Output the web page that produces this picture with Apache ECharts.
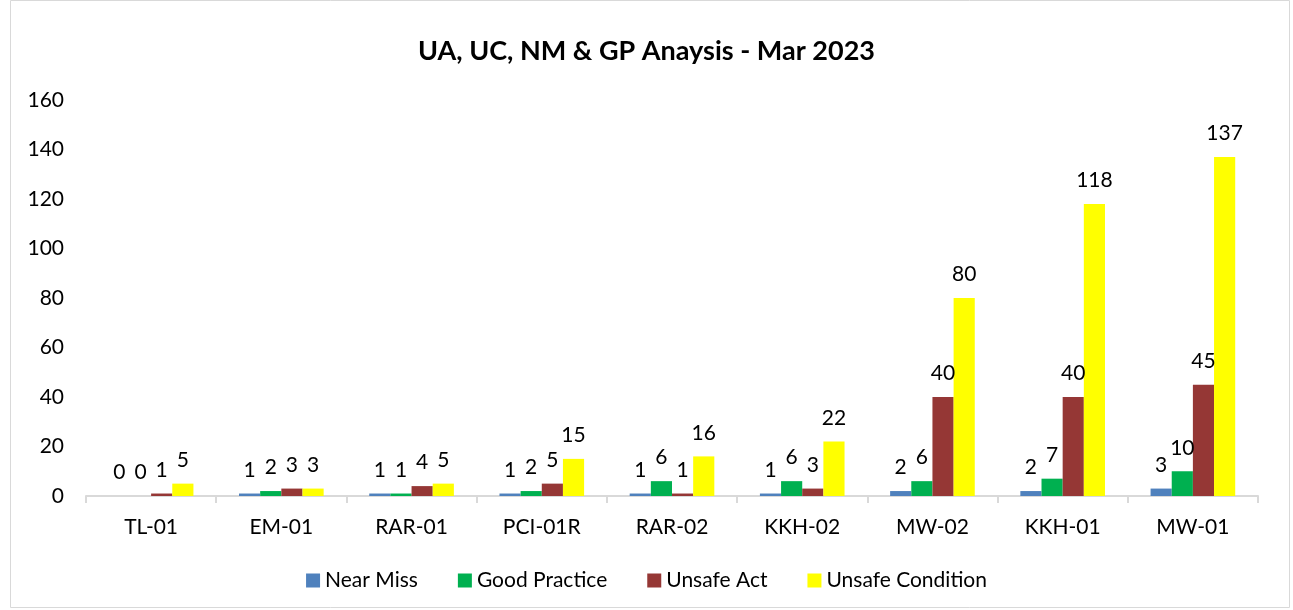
<!DOCTYPE html>
<html>
<head>
<meta charset="utf-8">
<script src="https://cdn.jsdelivr.net/npm/echarts@6/dist/echarts.min.js"></script>
<style>
  html, body { margin: 0; padding: 0; background: #fff; }
  #main { width: 1293px; height: 610px; }
</style>
</head>
<body>
<div id="main"></div>
<script>
var categories = ["TL-01", "EM-01", "RAR-01", "PCI-01R", "RAR-02", "KKH-02", "MW-02", "KKH-01", "MW-01"];
var nearMiss = [0, 1, 1, 1, 1, 1, 2, 2, 3];
var goodPractice = [0, 2, 1, 2, 6, 6, 6, 7, 10];
var unsafeAct = [1, 3, 4, 5, 1, 3, 40, 40, 45];
var unsafeCondition = [5, 3, 5, 15, 16, 22, 80, 118, 137];
var colors = ["#4f81bd", "#00b050", "#953735", "#ffff00"];
var font = "Lato, 'Open Sans', sans-serif";

function bar(name, data) {
  return {
    name: name,
    type: "bar",
    animation: false,
    barGap: "0",
    barCategoryGap: "35%",
    label: {
      show: true,
      position: "top",
      distance: 13,
      color: "#000",
      fontSize: 21,
      fontFamily: font
    },
    data: data
  };
}

var myChart = echarts.init(document.getElementById("main"));
myChart.setOption({
  color: colors,
  title: {
    text: "UA, UC, NM & GP Anaysis - Mar 2023",
    left: "center",
    top: 33,
    textStyle: { fontSize: 27, fontWeight: "bold", color: "#000", fontFamily: font }
  },
  legend: {
    bottom: 14,
    left: "center",
    itemWidth: 14,
    itemHeight: 14,
    itemGap: 40,
    icon: "rect",
    textStyle: { fontSize: 21, color: "#000", fontFamily: font },
    data: ["Near Miss", "Good Practice", "Unsafe Act", "Unsafe Condition"]
  },
  grid: { left: 86, right: 35, top: 100, bottom: 114 },
  xAxis: [{
    type: "category",
    data: categories,
    axisLine: { lineStyle: { color: "#d9d9d9", width: 2 } },
    axisTick: { show: true, length: 7, lineStyle: { color: "#d9d9d9", width: 2 } },
    axisLabel: { color: "#000", fontSize: 21, margin: 21, fontFamily: font }
  }],
  yAxis: [{
    type: "value",
    min: 0,
    max: 160,
    interval: 20,
    splitLine: { show: false },
    axisLine: { show: false },
    axisTick: { show: false },
    axisLabel: { color: "#000", fontSize: 21, margin: 22, fontFamily: font }
  }],
  graphic: [{
    type: "rect",
    shape: { x: 10.5, y: 0.5, width: 1279, height: 607 },
    style: { fill: null, stroke: "#d9d9d9", lineWidth: 1 },
    silent: true
  }],
  series: [
    bar("Near Miss", nearMiss),
    bar("Good Practice", goodPractice),
    bar("Unsafe Act", unsafeAct),
    bar("Unsafe Condition", unsafeCondition)
  ]
});
</script>
</body>
</html>
